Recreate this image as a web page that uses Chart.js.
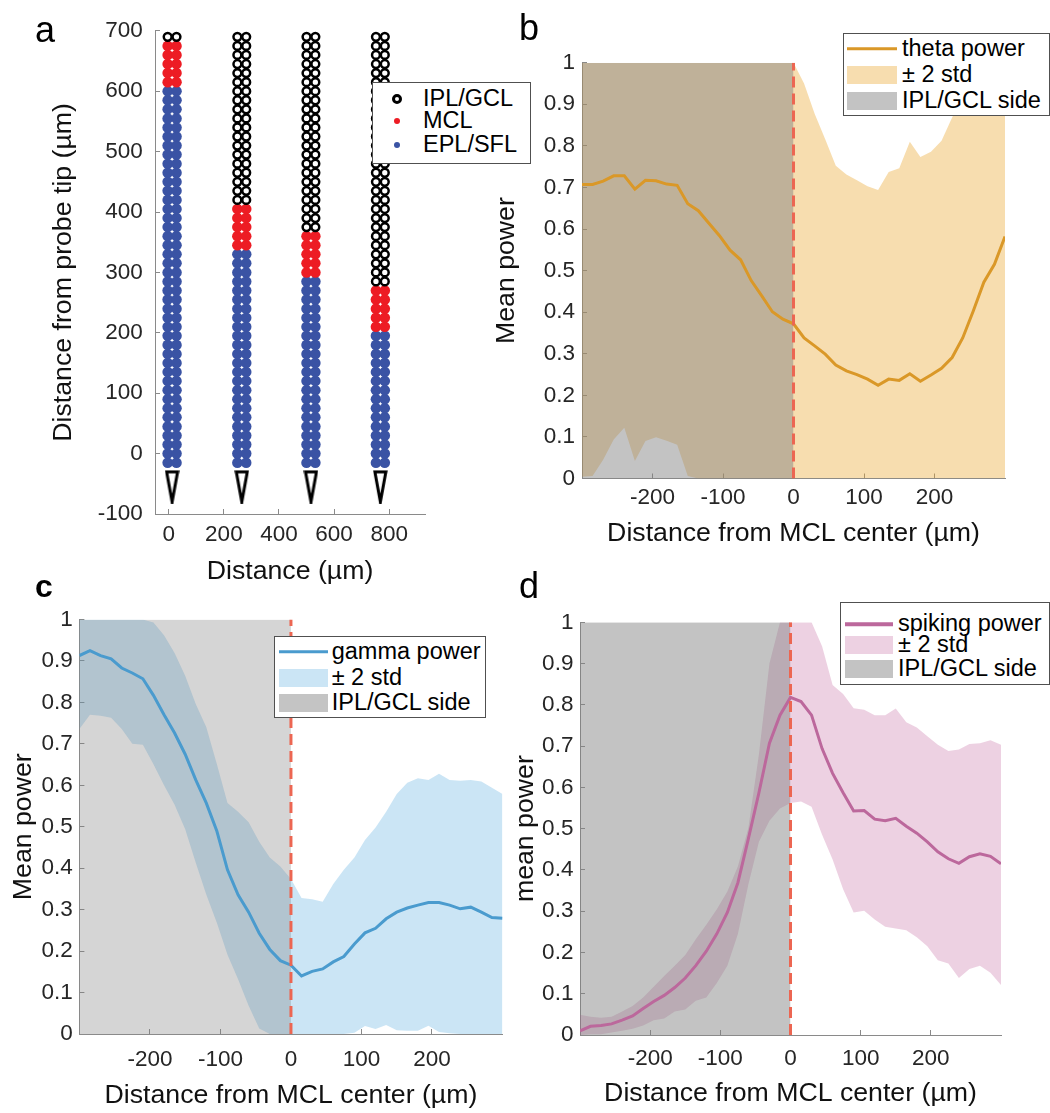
<!DOCTYPE html>
<html lang="en">
<head>
<meta charset="utf-8">
<title>Power profiles across the MCL</title>
<script src="https://cdn.jsdelivr.net/npm/chart.js@4.4.1/dist/chart.umd.min.js"></script>
<style>
    html, body { margin: 0; padding: 0; background: #fff; }
    body { position: relative; width: 1050px; height: 1113px; overflow: hidden;
           font-family: 'Liberation Sans', Arial, Helvetica, sans-serif; }
    canvas { position: absolute; }
    .letter { position: absolute; font-size: 36px; line-height: 36px; color: #000; }
    .legend { position: absolute; box-sizing: border-box; background: #fff; border: 1px solid #505050; z-index: 2; }
    .legend span { position: absolute; transform: translateY(-50%); }
    .legend .txt { font-size: 23.5px; line-height: 1; white-space: nowrap; color: #000; }
</style>
</head>
<body>
<canvas id="probe" width="500" height="600" style="left:0;top:0"></canvas>
<canvas id="theta" width="570" height="560" style="left:480px;top:0"></canvas>
<canvas id="gamma" width="530" height="553" style="left:0;top:560px"></canvas>
<canvas id="spiking" width="570" height="553" style="left:480px;top:560px"></canvas>

<div class="letter" style="left:35px;top:11.5px">a</div>
<div class="letter" style="left:519px;top:9.5px">b</div>
<div class="letter" style="left:35px;top:568px;font-weight:bold;font-size:32px">c</div>
<div class="letter" style="left:519px;top:567.5px">d</div>

<script>
// probe layout (panel a)
const probeRows = [-15, 0, 15, 30, 45, 60, 75, 90, 105, 120, 135, 150, 165, 180, 195, 210,
    225, 240, 255, 270, 285, 300, 315, 330, 345, 360, 375, 390, 405, 420, 435, 450,
    465, 480, 495, 510, 525, 540, 555, 570, 585, 600, 615, 630, 645, 660, 675, 690];
const shankColumns = [[-4, 28], [249, 281], [500, 532], [752, 784]];
const mclRows = [[615, 675], [345, 405], [300, 360], [210, 270]];
const tipDepth = -55;
const layerNames = ['IPL/GCL', 'MCL', 'EPL/SFL'];
const probeTicksX = [0, 200, 400, 600, 800];
const probeTicksY = [-100, 0, 100, 200, 300, 400, 500, 600, 700];

// power profiles (panels b-d)
const distance = [-300, -285, -270, -255, -240, -225, -210, -195, -180, -165, -150, -135, -120, -105,
    -90, -75, -60, -45, -30, -15, 0, 15, 30, 45, 60, 75, 90, 105, 120, 135, 150, 165, 180, 195,
    210, 225, 240, 255, 270, 285, 300];

const thetaMean = [0.707, 0.707, 0.715, 0.728, 0.728, 0.696, 0.717, 0.716, 0.708, 0.705, 0.661, 0.644,
    0.614, 0.584, 0.549, 0.526, 0.476, 0.439, 0.401, 0.383, 0.372, 0.338, 0.319, 0.299, 0.273, 0.259,
    0.250, 0.239, 0.224, 0.239, 0.236, 0.252, 0.234, 0.249, 0.265, 0.291, 0.338, 0.403, 0.472, 0.515, 0.582];
const thetaUpper = [1, 1, 1, 1, 1, 1, 1, 1, 1, 1, 1, 1, 1, 1, 1, 1, 1, 1, 1, 1, 1,
    0.95, 0.877, 0.816, 0.752, 0.731, 0.717, 0.703, 0.694, 0.737, 0.746, 0.810, 0.773, 0.786, 0.812,
    0.868, 0.92, 0.97, 1, 1, 1];
const thetaLower = [0.004, 0.006, 0.045, 0.094, 0.122, 0.042, 0.090, 0.099, 0.091, 0.081, 0.006,
    0, 0, 0, 0, 0, 0, 0, 0, 0, 0, 0, 0, 0, 0, 0, 0, 0, 0, 0, 0, 0, 0, 0, 0, 0, 0, 0, 0, 0, 0];

const gammaMean = [0.913, 0.925, 0.913, 0.905, 0.883, 0.871, 0.857, 0.817, 0.770, 0.726, 0.675, 0.613,
    0.557, 0.489, 0.396, 0.336, 0.294, 0.243, 0.204, 0.177, 0.166, 0.140, 0.151, 0.157, 0.174, 0.187,
    0.217, 0.244, 0.255, 0.278, 0.294, 0.304, 0.311, 0.317, 0.317, 0.311, 0.302, 0.306, 0.294, 0.281, 0.279];
const gammaUpper = [1, 1, 1, 1, 1, 1, 1, 0.993, 0.962, 0.919, 0.864, 0.796, 0.740, 0.651, 0.557, 0.536,
    0.511, 0.464, 0.426, 0.404, 0.374, 0.328, 0.325, 0.319, 0.362, 0.396, 0.426, 0.468, 0.498, 0.536,
    0.579, 0.606, 0.617, 0.613, 0.628, 0.613, 0.611, 0.613, 0.609, 0.594, 0.579];
const gammaLower = [0.736, 0.770, 0.768, 0.763, 0.736, 0.700, 0.698, 0.651, 0.600, 0.553, 0.494, 0.413,
    0.336, 0.268, 0.191, 0.132, 0.068, 0.013, 0, 0, 0, 0, 0, 0, 0, 0, 0.003, 0.019, 0.012, 0.022,
    0.009, 0.008, 0.008, 0.02, 0.005, 0.002, 0, 0, 0, 0, 0];

const spikingMean = [0.010, 0.021, 0.023, 0.027, 0.036, 0.046, 0.064, 0.081, 0.096, 0.115, 0.138, 0.168,
    0.203, 0.245, 0.297, 0.369, 0.476, 0.587, 0.707, 0.775, 0.818, 0.808, 0.775, 0.694, 0.634, 0.587,
    0.543, 0.544, 0.523, 0.519, 0.525, 0.506, 0.489, 0.468, 0.444, 0.427, 0.416, 0.432, 0.439, 0.433, 0.415];
const spikingUpper = [0.049, 0.044, 0.042, 0.044, 0.057, 0.070, 0.091, 0.117, 0.143, 0.168, 0.194, 0.232,
    0.267, 0.305, 0.348, 0.408, 0.502, 0.68, 0.90, 1, 1, 1, 1, 0.942, 0.848, 0.826, 0.792, 0.788, 0.775,
    0.775, 0.791, 0.758, 0.745, 0.724, 0.703, 0.688, 0.692, 0.705, 0.707, 0.714, 0.703];
const spikingLower = [0, 0.002, 0.002, 0.006, 0.010, 0.015, 0.023, 0.036, 0.040, 0.057, 0.062, 0.083,
    0.091, 0.126, 0.168, 0.245, 0.365, 0.468, 0.519, 0.549, 0.562, 0.566, 0.553, 0.485, 0.425, 0.353,
    0.297, 0.301, 0.280, 0.262, 0.258, 0.254, 0.237, 0.215, 0.181, 0.173, 0.138, 0.160, 0.168, 0.151, 0.121];

const iplSide = [-300, 0];
const mclCenter = 0;
const powerTicksX = [-200, -100, 0, 100, 200];
const powerTicksY = [0, 0.1, 0.2, 0.3, 0.4, 0.5, 0.6, 0.7, 0.8, 0.9, 1];

const axisColor = '#8a8a8a';
const tickColor = '#262626';
const titleColor = '#111111';
const dashColor = 'rgb(236, 102, 82)';
const red = 'rgb(237, 28, 36)';
const blue = 'rgb(58, 83, 164)';

Chart.defaults.font.family = "'Liberation Sans', Arial, sans-serif";
Chart.defaults.animation = false;
Chart.defaults.events = [];
Chart.defaults.plugins.legend.display = false;
Chart.defaults.plugins.tooltip.enabled = false;

function axis(min, max, tickValues, o) {
    return {
        type: 'linear',
        min: min,
        max: max,
        afterBuildTicks: s => { s.ticks = tickValues.map(v => ({ value: v })); },
        afterFit: s => {
            if (o.width !== undefined) s.width = o.width;
            if (o.height !== undefined) s.height = o.height;
        },
        border: { display: true, color: axisColor, width: 1 },
        grid: { drawOnChartArea: false, drawTicks: true, tickLength: -5, color: axisColor, tickColor: axisColor, tickWidth: 1 },
        ticks: { padding: o.pad, color: tickColor, font: { size: 22.5 }, autoSkip: false, maxRotation: 0,
                 callback: v => String(v) },
        title: { display: true, text: o.title, color: titleColor, font: { size: 26.7 }, padding: o.titlePad }
    };
}

function probePoints(layer) {
    const pts = [];
    shankColumns.forEach((cols, s) => {
        const lo = mclRows[s][0], hi = mclRows[s][1];
        probeRows.forEach(depth => {
            const which = depth > hi ? 0 : (depth >= lo ? 1 : 2);
            if (which === layer) cols.forEach(x => pts.push({ x: x, y: depth }));
        });
    });
    return pts;
}

function probeTipImage() {
    const c = document.createElement('canvas');
    c.width = 15;
    c.height = 34;
    const g = c.getContext('2d');
    g.beginPath();
    g.moveTo(2, 2);
    g.lineTo(13, 2);
    g.lineTo(7.5, 32);
    g.closePath();
    g.fillStyle = '#fff';
    g.fill();
    g.lineWidth = 3;
    g.strokeStyle = '#000';
    g.stroke();
    return c;
}

new Chart(document.getElementById('probe'), {
    type: 'scatter',
    data: {
        datasets: [
            { label: layerNames[0], data: probePoints(0), pointRadius: 3.9, borderWidth: 2.5,
              borderColor: '#000', backgroundColor: '#fff' },
            { label: layerNames[1], data: probePoints(1), pointRadius: 5.3, borderWidth: 0, backgroundColor: red },
            { label: layerNames[2], data: probePoints(2), pointRadius: 5.3, borderWidth: 0, backgroundColor: blue },
            { label: 'tip', data: shankColumns.map(c => ({ x: (c[0] + c[1]) / 2, y: tipDepth })),
              pointStyle: probeTipImage(), pointRadius: 6 }
        ]
    },
    options: {
        responsive: false,
        layout: { padding: { left: 0, right: 75, top: 24, bottom: 0 } },
        scales: {
            x: axis(-50, 930, probeTicksX, { height: 86, pad: 12.5, title: 'Distance (µm)', titlePad: { top: 0, bottom: 12 } }),
            y: axis(-100, 700, probeTicksY, { width: 155, pad: 17.3, title: 'Distance from probe tip (µm)', titlePad: { top: 48, bottom: 0 } })
        }
    }
});

function powerChart(id, cfg) {
    const pts = arr => distance.map((d, i) => ({ x: d, y: arr[i] }));
    return new Chart(document.getElementById(id), {
        type: 'line',
        data: {
            datasets: [
                { label: cfg.label, data: pts(cfg.mean), borderColor: cfg.line, borderWidth: 3,
                  pointRadius: 0, fill: false, tension: 0, order: 1 },
                { label: 'lower', data: pts(cfg.lower), borderWidth: 0, pointRadius: 0, fill: false, order: 3 },
                { label: '± 2 std', data: pts(cfg.upper), borderWidth: 0, pointRadius: 0, fill: 1,
                  backgroundColor: cfg.band, order: 3 },
                { label: 'IPL/GCL side', data: iplSide.map(x => ({ x: x, y: 1 })), borderWidth: 0,
                  pointRadius: 0, fill: 'origin', backgroundColor: cfg.shade, order: 2 },
                { label: 'MCL center', data: [{ x: mclCenter, y: 0 }, { x: mclCenter, y: 1 }],
                  borderColor: dashColor, borderWidth: 3, borderDash: [11, 6], pointRadius: 0, fill: false, order: 0 }
            ]
        },
        options: {
            responsive: false,
            layout: { padding: { left: 0, right: cfg.padR, top: cfg.padT, bottom: 0 } },
            scales: {
                x: axis(-300, 300, powerTicksX, { height: cfg.xH, pad: cfg.xPad, title: 'Distance from MCL center (µm)',
                    titlePad: { top: 0, bottom: cfg.xTitle } }),
                y: axis(0, 1, powerTicksY, { width: cfg.yW, pad: cfg.yPad, title: cfg.yLabel,
                    titlePad: { top: cfg.yTitle, bottom: 0 } })
            }
        }
    });
}

const thetaStyle = { line: 'rgb(218, 152, 40)', band: 'rgba(235, 165, 45, 0.38)', shade: 'rgba(128, 128, 128, 0.47)' };
const gammaStyle = { line: 'rgb(74, 155, 206)', band: 'rgba(77, 166, 220, 0.29)', shade: 'rgba(128, 128, 128, 0.33)' };
const spikingStyle = { line: 'rgb(188, 104, 156)', band: 'rgba(190, 90, 150, 0.28)', shade: 'rgba(128, 128, 128, 0.47)' };

powerChart('theta', Object.assign({ label: 'theta power', mean: thetaMean, upper: thetaUpper, lower: thetaLower,
    yLabel: 'Mean power', yW: 102, padR: 45, padT: 62.7, xH: 81.5, xPad: 10.5, yPad: 12, yTitle: 11, xTitle: 10 }, thetaStyle));
powerChart('gamma', Object.assign({ label: 'gamma power', mean: gammaMean, upper: gammaUpper, lower: gammaLower,
    yLabel: 'Mean power', yW: 79.4, padR: 27.5, padT: 59.5, xH: 79, xPad: 17.5, yPad: 11.7, yTitle: 7.7, xTitle: 1 }, gammaStyle));
powerChart('spiking', Object.assign({ label: 'spiking power', mean: spikingMean, upper: spikingUpper, lower: spikingLower,
    yLabel: 'mean power', yW: 100, padR: 49, padT: 62.3, xH: 78, xPad: 15.5, yPad: 11.6, yTitle: 30, xTitle: 3 }, spikingStyle));

// html legends
function addLegend(box, keys, labels) {
    const el = document.createElement('div');
    el.className = 'legend';
    el.style.left = box.left + 'px';
    el.style.top = box.top + 'px';
    el.style.width = box.width + 'px';
    el.style.height = box.height + 'px';
    keys.forEach((k, i) => {
        const y = box.rows[i] - 1;
        const key = document.createElement('span');
        key.style.top = y + 'px';
        if (k.type === 'line' || k.type === 'patch') {
            key.style.left = (box.swatchX - 1) + 'px';
            key.style.width = box.swatchW + 'px';
            key.style.height = (k.type === 'line' ? 3.5 : 18) + 'px';
            key.style.background = k.color;
        } else {
            const d = k.type === 'ring' ? 10 : 6;
            key.style.left = (box.markX - 1 - d / 2) + 'px';
            key.style.width = d + 'px';
            key.style.height = d + 'px';
            key.style.borderRadius = '50%';
            key.style.boxSizing = 'border-box';
            if (k.type === 'ring') key.style.border = '3px solid #000';
            else key.style.background = k.color;
        }
        el.appendChild(key);
        const txt = document.createElement('span');
        txt.className = 'txt';
        txt.style.top = y + 'px';
        txt.style.left = (box.textX - 1) + 'px';
        txt.textContent = labels[i];
        el.appendChild(txt);
    });
    document.body.appendChild(el);
}

addLegend({ left: 371.7, top: 81.5, width: 159.5, height: 82.5, rows: [17, 39.5, 63.5], markX: 25.5, textX: 51.3 },
    [{ type: 'ring' }, { type: 'dot', color: red }, { type: 'dot', color: blue }], layerNames);
addLegend({ left: 842.7, top: 33.3, width: 207, height: 83, rows: [15.7, 41.7, 67.7], swatchX: 4.3, swatchW: 50, textX: 59.3 },
    [{ type: 'line', color: thetaStyle.line }, { type: 'patch', color: thetaStyle.band }, { type: 'patch', color: thetaStyle.shade }],
    ['theta power', '± 2 std', 'IPL/GCL side']);
addLegend({ left: 274, top: 636, width: 212, height: 82, rows: [15.7, 42.3, 67.3], swatchX: 5, swatchW: 49, textX: 57.7 },
    [{ type: 'line', color: gammaStyle.line }, { type: 'patch', color: gammaStyle.band }, { type: 'patch', color: '#c4c4c4' }],
    ['gamma power', '± 2 std', 'IPL/GCL side']);
addLegend({ left: 839.7, top: 602.3, width: 210, height: 83, rows: [22, 42.5, 67], swatchX: 5.3, swatchW: 48, textX: 58.3 },
    [{ type: 'line', color: spikingStyle.line }, { type: 'patch', color: spikingStyle.band }, { type: 'patch', color: spikingStyle.shade }],
    ['spiking power', '± 2 std', 'IPL/GCL side']);
</script>
</body>
</html>
